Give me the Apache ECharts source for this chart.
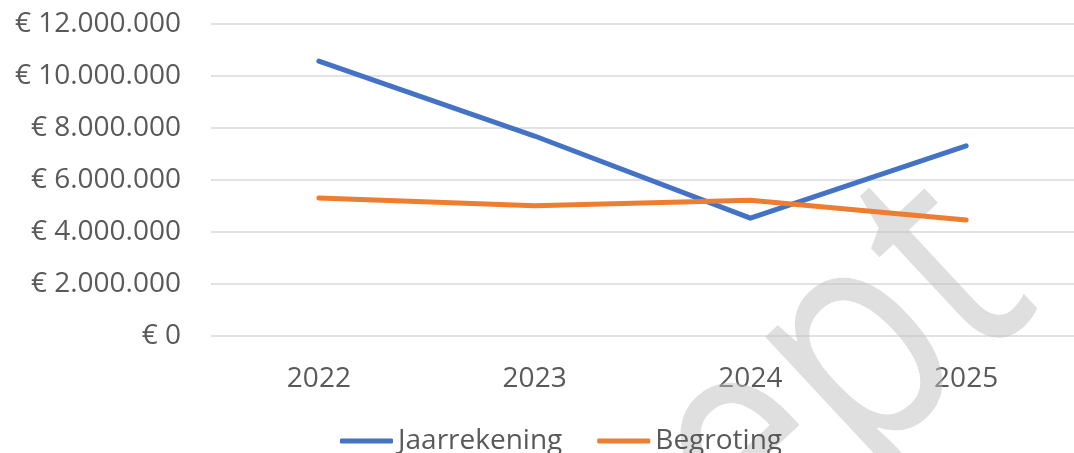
<!DOCTYPE html>
<html>
<head>
<meta charset="utf-8">
<script src="https://cdn.jsdelivr.net/npm/echarts@6/dist/echarts.min.js"></script>
<style>
  html, body { margin: 0; padding: 0; background: #fff; }
  #chart { width: 1074px; height: 453px; }
</style>
</head>
<body>
<div id="chart"></div>
<script>
var years = ['2022', '2023', '2024', '2025'];
var jaarrekening = [10560000, 7680000, 4520000, 7300000];
var begroting = [5300000, 5000000, 5210000, 4450000];
var seriesNames = ['Jaarrekening', 'Begroting'];

var chart = echarts.init(document.getElementById('chart'));

// euro met punt als duizendtal-scheiding
function euro(v) {
    return '€ ' + String(v).replace(/\B(?=(\d{3})+(?!\d))/g, '.');
}

var option = {
    animation: false,
    textStyle: { fontFamily: 'Open Sans' },
    grid: { left: 211, top: 23.7, width: 880, height: 312 },
    legend: {
        data: seriesNames,
        left: 335,
        top: 422,
        itemWidth: 53,
        itemHeight: 5,
        itemGap: 35,
        icon: 'roundRect',
        z: 5,
        textStyle: { color: '#595959', fontSize: 28, fontFamily: 'Open Sans' }
    },
    xAxis: {
        type: 'category',
        data: years,
        axisLine: { show: false },
        axisTick: { show: false },
        axisLabel: { color: '#595959', fontSize: 28, margin: 29 }
    },
    yAxis: {
        type: 'value',
        min: 0,
        max: 12000000,
        interval: 2000000,
        axisLabel: {
            color: '#595959',
            fontSize: 28,
            margin: 30,
            formatter: euro
        },
        splitLine: { lineStyle: { color: '#d9d9d9', width: 1.5 } }
    },
    series: [
        {
            name: seriesNames[0],
            type: 'line',
            data: jaarrekening,
            symbol: 'none',
            itemStyle: { color: '#4472C4' },
            lineStyle: { color: '#4472C4', width: 5, cap: 'round', join: 'round' }
        },
        {
            name: seriesNames[1],
            type: 'line',
            data: begroting,
            symbol: 'none',
            itemStyle: { color: '#ED7D31' },
            lineStyle: { color: '#ED7D31', width: 5, cap: 'round', join: 'round' }
        }
    ],
    // watermerk, boven de lijnen maar onder de legenda
    graphic: [{
        type: 'text',
        x: 1088,
        y: 354,
        rotation: 43 * Math.PI / 180,
        scaleX: 0.82,
        z: 3,
        silent: true,
        style: {
            text: 'Concept',
            x: 0,
            y: 0,
            align: 'right',
            verticalAlign: 'bottom',
            font: '310px "Open Sans"',
            fill: 'rgba(192,192,192,0.5)'
        }
    }]
};

chart.setOption(option);
</script>
</body>
</html>
